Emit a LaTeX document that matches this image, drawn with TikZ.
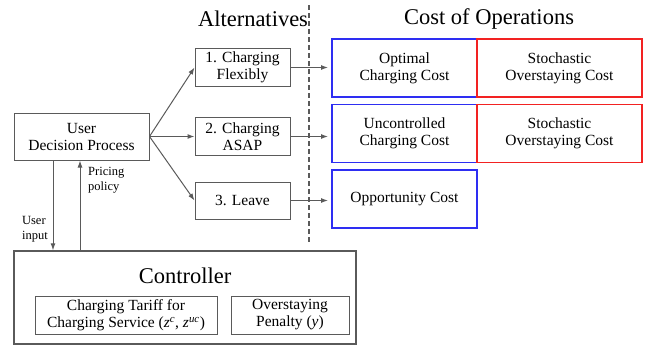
\documentclass[tikz,border=0pt]{standalone}
\usepackage{fontspec}
\setmainfont{LiberationSerif}[Extension=.ttf,UprightFont=*-Regular,ItalicFont=*-Italic,BoldFont=*-Bold,BoldItalicFont=*-BoldItalic]
\usetikzlibrary{positioning,arrows.meta}
\definecolor{linegray}{HTML}{5A5A5A}
\definecolor{costblue}{HTML}{2E2EF2}
\definecolor{costred}{HTML}{F22222}

\begin{document}
\begin{tikzpicture}[x=1pt,y=-1pt,node distance=0pt, % pixel-like units
    box/.style={draw=linegray,line width=1pt,align=center,inner sep=0pt,font=\fontsize{15.5}{17}\selectfont},
    altbox/.style={box,minimum width=95pt,minimum height=38pt},
    costbox/.style={box,line width=1.5pt,outer sep=0pt,minimum height=58pt},
    bluebox/.style={costbox,draw=costblue,minimum width=145pt},
    redbox/.style={costbox,draw=costred,minimum width=165pt},
    header/.style={font=\fontsize{22.5}{24}\selectfont},
    lbl/.style={align=left,inner sep=0pt,font=\fontsize{12.5}{15}\selectfont},
    arr/.style={draw=linegray,line width=1pt,-{Latex[length=7pt,width=5pt]}}]
    \useasboundingbox (0,0) rectangle (645,346);
    % Headers and separator
    \node[header] (alt) at (253,19) {Alternatives};
    \node[header] (cost) at (489,19) {Cost of Operations};
    \draw[linegray,line width=1.3pt,dash pattern=on 5pt off 3pt] (309,5) -- (309,243);
    % User side
    \node[box,minimum width=135pt,minimum height=47pt] (udp) at (81.5,136.5) {User\\Decision Process};
    % Alternatives
    \node[altbox] (a1) at (242.5,67.5) {1. Charging\\Flexibly};
    \node[altbox] (a2) at (242.5,136.5) {2. Charging\\ASAP};
    \node[altbox,minimum height=37pt] (a3) at (242.5,200.5) {3. Leave};
    % Costs
    \node[bluebox] (c1) at (404.5,68) {Optimal\\Charging Cost};
    \node[redbox,right=of c1] (s1) {Stochastic\\Overstaying Cost};
    \node[bluebox] (c2) at (404.5,133.5) {Uncontrolled\\Charging Cost};
    \node[redbox,right=of c2] (s2) {Stochastic\\Overstaying Cost};
    \node[bluebox] (c3) at (404.5,199) {Opportunity Cost};
    % Controller
    \node[box,line width=1.3pt,minimum width=342pt,minimum height=93pt] (ctrl) at (185,297.5) {};
    \node[header] (ctrltitle) at (185,276) {Controller};
    \node[box,minimum width=182pt,minimum height=38pt] (tariff) at (126,315)
        {Charging Tariff for\\Charging Service (\textit{z}\textsuperscript{\textit{c}}, \textit{z}\textsuperscript{\textit{uc}})};
    \node[box,minimum width=118pt,minimum height=38pt] (penalty) at (290,315) {Overstaying\\Penalty (\textit{y})};
    % Connectors
    \draw[arr] (udp.east) -- (a1.west);
    \draw[arr] (udp.east) -- (a2.west);
    \draw[arr] (udp.east) -- (a3.west);
    \draw[arr,shorten >=4pt] (a1.east) -- (a1.east -| c1.west);
    \draw[arr,shorten >=4pt] (a2.east) -- (a2.east -| c2.west);
    \draw[arr,shorten >=4pt] (a3.east) -- (a3.east -| c3.west);
    \coordinate (uin) at (53,0);
    \coordinate (pout) at (80,0);
    \draw[arr] (udp.south -| uin) -- (ctrl.north -| uin);
    \draw[arr] (ctrl.north -| pout) -- (udp.south -| pout);
    \node[lbl,anchor=east] (uinlbl) at (48,229) {User\\input};
    \node[lbl,anchor=west] (poutlbl) at (88,180) {Pricing\\policy};
\end{tikzpicture}
\end{document}
